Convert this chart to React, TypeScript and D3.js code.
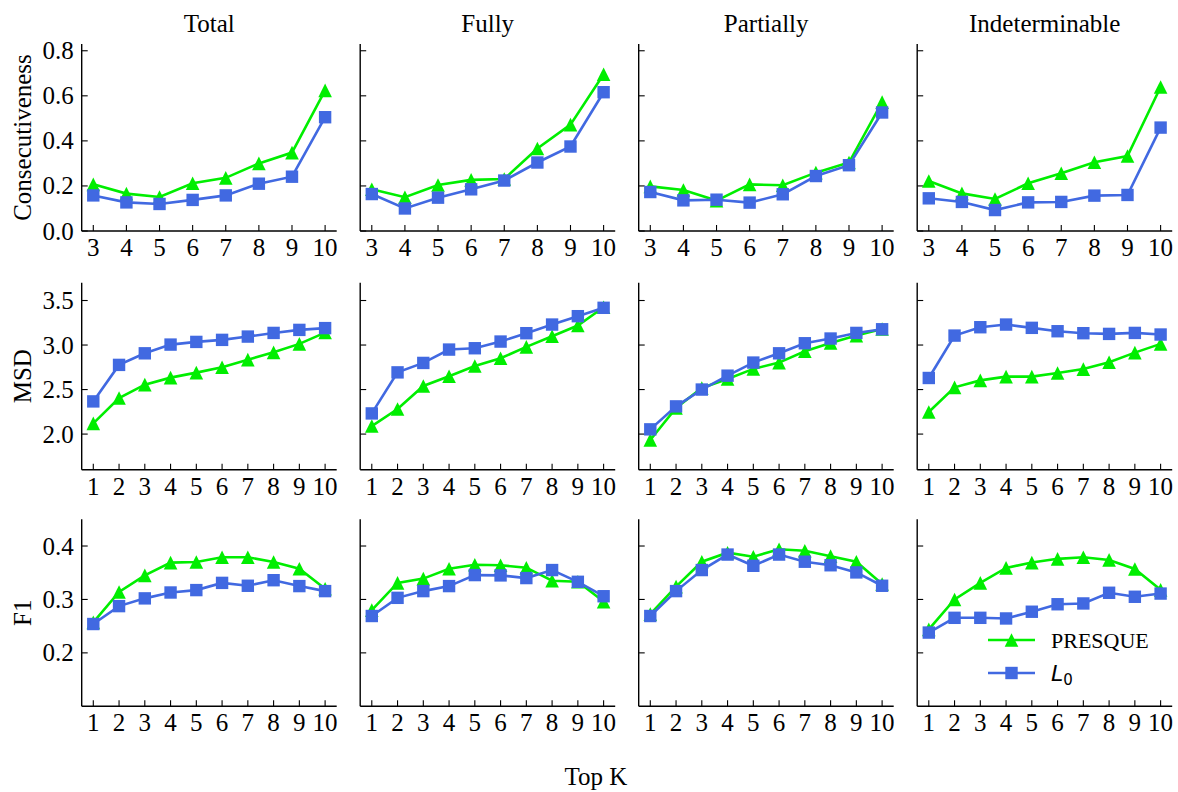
import React from "react";
import * as d3 from "d3";

const columns = ["Total", "Fully", "Partially", "Indeterminable"];
const rowLabels = ["Consecutiveness", "MSD", "F1"];
const kConsec = [3, 4, 5, 6, 7, 8, 9, 10];
const kOther = [1, 2, 3, 4, 5, 6, 7, 8, 9, 10];

const consecPresque = [
  [0.207, 0.166, 0.151, 0.212, 0.236, 0.3, 0.348, 0.624],
  [0.185, 0.15, 0.204, 0.227, 0.231, 0.366, 0.472, 0.696],
  [0.198, 0.182, 0.135, 0.207, 0.203, 0.259, 0.304, 0.572],
  [0.222, 0.167, 0.142, 0.212, 0.256, 0.305, 0.333, 0.639],
];
const consecL0 = [
  [0.158, 0.127, 0.12, 0.138, 0.158, 0.21, 0.241, 0.505],
  [0.164, 0.1, 0.148, 0.185, 0.224, 0.304, 0.375, 0.616],
  [0.173, 0.136, 0.139, 0.126, 0.163, 0.244, 0.292, 0.526],
  [0.145, 0.129, 0.093, 0.127, 0.129, 0.157, 0.16, 0.459],
];
const msdPresque = [
  [2.12, 2.405, 2.555, 2.634, 2.69, 2.75, 2.836, 2.918, 3.013, 3.14],
  [2.09, 2.282, 2.54, 2.649, 2.765, 2.851, 2.979, 3.098, 3.219, 3.425],
  [1.933, 2.293, 2.518, 2.619, 2.732, 2.803, 2.93, 3.024, 3.106, 3.18],
  [2.248, 2.525, 2.603, 2.645, 2.645, 2.686, 2.73, 2.806, 2.915, 3.013],
];
const msdL0 = [
  [2.367, 2.777, 2.907, 3.005, 3.035, 3.058, 3.095, 3.136, 3.17, 3.19],
  [2.232, 2.693, 2.799, 2.949, 2.964, 3.039, 3.133, 3.23, 3.324, 3.418],
  [2.053, 2.311, 2.5, 2.656, 2.803, 2.907, 3.02, 3.073, 3.136, 3.177],
  [2.63, 3.106, 3.2, 3.23, 3.193, 3.155, 3.133, 3.125, 3.136, 3.118],
];
const f1Presque = [
  [0.257, 0.314, 0.345, 0.369, 0.37, 0.379, 0.379, 0.37, 0.3575, 0.32],
  [0.28, 0.331, 0.339, 0.3575, 0.365, 0.364, 0.3594, 0.335, 0.333, 0.296],
  [0.2725, 0.324, 0.3706, 0.3875, 0.38, 0.394, 0.391, 0.381, 0.3706, 0.329],
  [0.244, 0.3, 0.331, 0.359, 0.369, 0.376, 0.379, 0.374, 0.357, 0.318],
];
const f1L0 = [
  [0.254, 0.2875, 0.302, 0.313, 0.3175, 0.331, 0.3256, 0.336, 0.325, 0.3156],
  [0.269, 0.303, 0.3156, 0.325, 0.3456, 0.345, 0.34, 0.355, 0.333, 0.306],
  [0.269, 0.3156, 0.355, 0.384, 0.363, 0.384, 0.3706, 0.364, 0.3506, 0.3256],
  [0.238, 0.2656, 0.2656, 0.2644, 0.277, 0.291, 0.2925, 0.3125, 0.305, 0.311],
];

const yTicksConsec = [0, 0.2, 0.4, 0.6, 0.8];
const yTicksMsd = [2.0, 2.5, 3.0, 3.5];
const yTicksF1 = [0.2, 0.3, 0.4];

const GREEN = "#00ee00";
const BLUE = "#4169e1";
const FONT = "'Liberation Serif', 'Times New Roman', serif";

const rows = [
  { label: rowLabels[0], ks: kConsec, presque: consecPresque, l0: consecL0, yDomain: [0, 0.83], yTicks: yTicksConsec, xDomain: [2.65, 10.35] },
  { label: rowLabels[1], ks: kOther, presque: msdPresque, l0: msdL0, yDomain: [1.6, 3.7], yTicks: yTicksMsd, xDomain: [0.55, 10.45] },
  { label: rowLabels[2], ks: kOther, presque: f1Presque, l0: f1L0, yDomain: [0.1, 0.45], yTicks: yTicksF1, xDomain: [0.55, 10.45] },
];

const W = 1178;
const H = 792;
const colLeft0 = 81.7;
const colStep = 278.5;
const panelW = 255;
const rowTops = [44, 282.7, 519.3];
const panelH = 187;
const TRI = 6.8;
const SQ = 6.2;

function Tri({ x, y, s, fill }: { x: number; y: number; s: number; fill: string }) {
  return <path d={`M${x},${y - s}L${x - s},${y + s}L${x + s},${y + s}Z`} fill={fill} />;
}
function Sq({ x, y, s, fill }: { x: number; y: number; s: number; fill: string }) {
  return <rect x={x - s} y={y - s} width={2 * s} height={2 * s} fill={fill} />;
}

export default function App() {
  return (
    <svg width={W} height={H} style={{ display: "block", position: "absolute", left: 0, top: 0, background: "#fff" }} fontFamily={FONT}>
      {rows.map((row, ri) => {
        const top = rowTops[ri];
        const bottom = top + panelH;
        const y = d3.scaleLinear().domain(row.yDomain).range([bottom, top]);
        return (
          <g key={ri}>
            <text
              transform={`translate(31,${(top + bottom) / 2}) rotate(-90)`}
              textAnchor="middle"
              fontSize={25}
            >
              {row.label}
            </text>
            {columns.map((col, ci) => {
              const left = colLeft0 + ci * colStep;
              const x = d3.scaleLinear().domain(row.xDomain).range([left, left + panelW]);
              const line = d3
                .line<number>()
                .x((_, i) => x(row.ks[i]))
                .y((d) => y(d));
              const p = row.presque[ci];
              const l = row.l0[ci];
              return (
                <g key={ci}>
                  {ri === 0 && (
                    <text x={left + panelW / 2} y={32} textAnchor="middle" fontSize={25}>
                      {col}
                    </text>
                  )}
                  {row.yTicks.map((t) => (
                    <g key={t}>
                      <line x1={left} x2={left + 6} y1={y(t)} y2={y(t)} stroke="#000" strokeWidth={1.1} />
                      {ci === 0 && (
                        <text x={left - 8} y={y(t)} textAnchor="end" dominantBaseline="central" fontSize={25}>
                          {d3.format(".1f")(t)}
                        </text>
                      )}
                    </g>
                  ))}
                  {row.ks.map((k) => (
                    <g key={k}>
                      <line x1={x(k)} x2={x(k)} y1={bottom} y2={bottom - 6} stroke="#000" strokeWidth={1.1} />
                      <text x={x(k)} y={bottom + 25} textAnchor="middle" fontSize={25}>
                        {k}
                      </text>
                    </g>
                  ))}
                  <path d={line(p) || ""} fill="none" stroke={GREEN} strokeWidth={2.6} />
                  {p.map((v, i) => (
                    <Tri key={i} x={x(row.ks[i])} y={y(v)} s={TRI} fill={GREEN} />
                  ))}
                  <path d={line(l) || ""} fill="none" stroke={BLUE} strokeWidth={2.6} />
                  {l.map((v, i) => (
                    <Sq key={i} x={x(row.ks[i])} y={y(v)} s={SQ} fill={BLUE} />
                  ))}
                  <line x1={left} x2={left} y1={top} y2={bottom} stroke="#000" strokeWidth={1.4} />
                  <line x1={left} x2={left + panelW} y1={bottom} y2={bottom} stroke="#000" strokeWidth={1.4} />
                  {ri === 2 && ci === 3 && (
                    <g>
                      <line x1={988} x2={1035} y1={640} y2={640} stroke={GREEN} strokeWidth={2.6} />
                      <Tri x={1011.5} y={640} s={TRI} fill={GREEN} />
                      <text x={1051} y={640} dominantBaseline="central" fontSize={22}>
                        PRESQUE
                      </text>
                      <line x1={988} x2={1035} y1={673} y2={673} stroke={BLUE} strokeWidth={2.6} />
                      <Sq x={1011.5} y={673} s={SQ} fill={BLUE} />
                      <text x={1051} y={681} fontSize={22} fontFamily="'DejaVu Sans', sans-serif">
                        <tspan fontStyle="italic">L</tspan>
                        <tspan fontSize={15} dy={4}>0</tspan>
                      </text>
                    </g>
                  )}
                </g>
              );
            })}
          </g>
        );
      })}
      <text x={596} y={785} textAnchor="middle" fontSize={25}>
        Top K
      </text>
    </svg>
  );
}
